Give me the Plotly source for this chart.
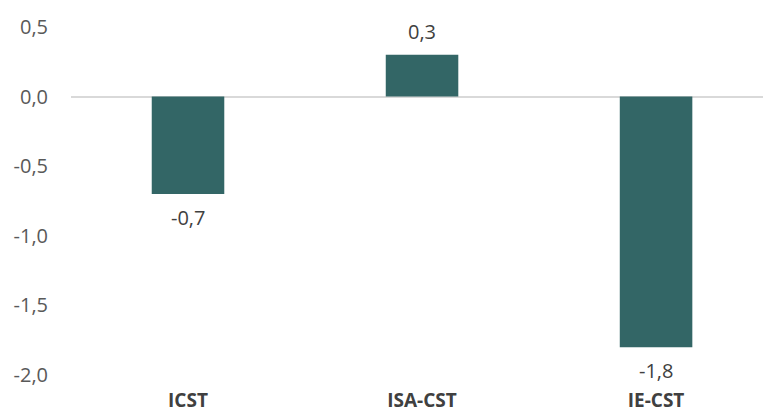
import plotly.graph_objects as go

categories = ["ICST", "ISA-CST", "IE-CST"]
values = [-0.7, 0.3, -1.8]
tick_vals = [0.5, 0.0, -0.5, -1.0, -1.5, -2.0]
tick_text = ["0,5", "0,0", "-0,5", "-1,0", "-1,5", "-2,0"]

def fmt(v):
    s = f"{abs(v):.1f}".replace(".", ",")
    return ("-" if v < 0 else "") + s

fig = go.Figure()
fig.add_trace(go.Bar(
    x=categories, y=values, width=0.31,
    marker=dict(color="#336666", line=dict(width=0)),
    hoverinfo="skip",
))

for c, v in zip(categories, values):
    fig.add_annotation(x=c, y=v, text=fmt(v), showarrow=False,
                       yshift=23 if v > 0 else -23,
                       font=dict(family="Open Sans", size=20, color="#404040"))

fig.update_layout(
    width=763, height=414,
    margin=dict(l=71, r=0, t=27, b=39),
    paper_bgcolor="white", plot_bgcolor="white",
    showlegend=False,
    font=dict(family="Open Sans", size=20, color="#595959"),
    xaxis=dict(range=[-0.5, 2.457], showgrid=False, zeroline=False,
               showline=False, ticks="", ticklabelstandoff=12, automargin=False,
               tickfont=dict(family="Open Sans", size=19, color="#404040", weight="bold")),
    yaxis=dict(range=[-2.0, 0.5], tickvals=tick_vals, ticktext=tick_text,
               showgrid=False, zeroline=True, zerolinecolor="#d9d9d9",
               zerolinewidth=2, showline=False, ticks="", ticklabelstandoff=22,
               automargin=False,
               tickfont=dict(family="Open Sans", size=20, color="#595959")),
)

fig.write_html("out.html", config={"displayModeBar": False},
               post_script="document.body.style.margin='0';document.body.style.overflow='hidden';")
